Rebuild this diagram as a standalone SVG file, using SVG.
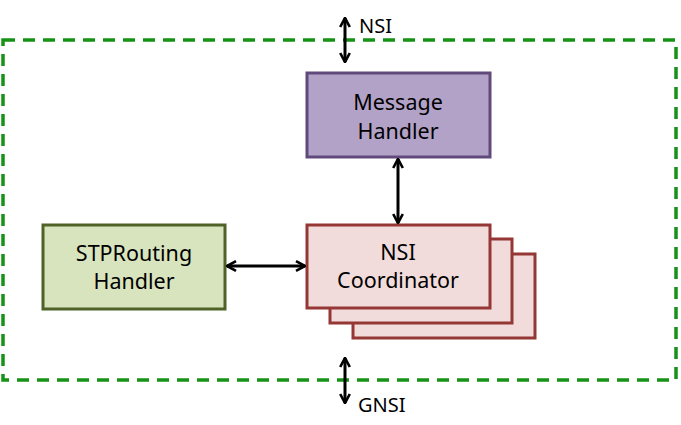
<svg xmlns="http://www.w3.org/2000/svg" width="681" height="425" viewBox="0 0 681 425">
<style>
text{font-family:"Noto Sans","Open Sans","Liberation Sans",sans-serif;font-size:21.5px;fill:#000;text-anchor:middle}
.lbl{text-anchor:start;font-size:20px}
.conn{stroke:#000;stroke-width:3;fill:none;marker-start:url(#ah);marker-end:url(#ah)}
</style>
<defs>
<marker id="ah" viewBox="0 0 10 10" refX="9" refY="5" markerWidth="4" markerHeight="4" orient="auto-start-reverse" markerUnits="strokeWidth">
<path d="M1.5,1 L9,5 L1.5,9" fill="none" stroke="#000" stroke-width="2.2" stroke-linejoin="miter"/>
</marker>
</defs>
<rect x="3" y="40" width="673" height="340" fill="none" stroke="#169216" stroke-width="3.5" stroke-dasharray="12,8"/>
<g id="message-handler">
<rect x="307" y="73" width="183" height="84" fill="#b3a2c7" stroke="#604a7b" stroke-width="3"/>
<text x="398" y="110">Message</text>
<text x="398" y="139">Handler</text>
</g>
<g id="stprouting-handler">
<rect x="43" y="225" width="182" height="84" fill="#d7e4bd" stroke="#4f6228" stroke-width="3"/>
<text x="134" y="261">STPRouting</text>
<text x="134" y="289">Handler</text>
</g>
<g id="nsi-coordinator">
<rect x="353" y="254" width="182" height="84" fill="#f2dcdb" stroke="#953735" stroke-width="3"/>
<rect x="330" y="239" width="182" height="84" fill="#f2dcdb" stroke="#953735" stroke-width="3"/>
<rect x="307" y="225" width="183" height="83" fill="#f2dcdb" stroke="#953735" stroke-width="3"/>
<text x="398" y="260">NSI</text>
<text x="398" y="288">Coordinator</text>
</g>
<g id="connectors">
<line class="conn" x1="345" y1="18" x2="345" y2="62"/>
<line class="conn" x1="398" y1="159" x2="398" y2="223"/>
<line class="conn" x1="227" y1="266" x2="305" y2="266"/>
<line class="conn" x1="345" y1="358" x2="345" y2="403"/>
</g>
<text class="lbl" x="359" y="33">NSI</text>
<text class="lbl" x="358" y="412">GNSI</text>
</svg>
